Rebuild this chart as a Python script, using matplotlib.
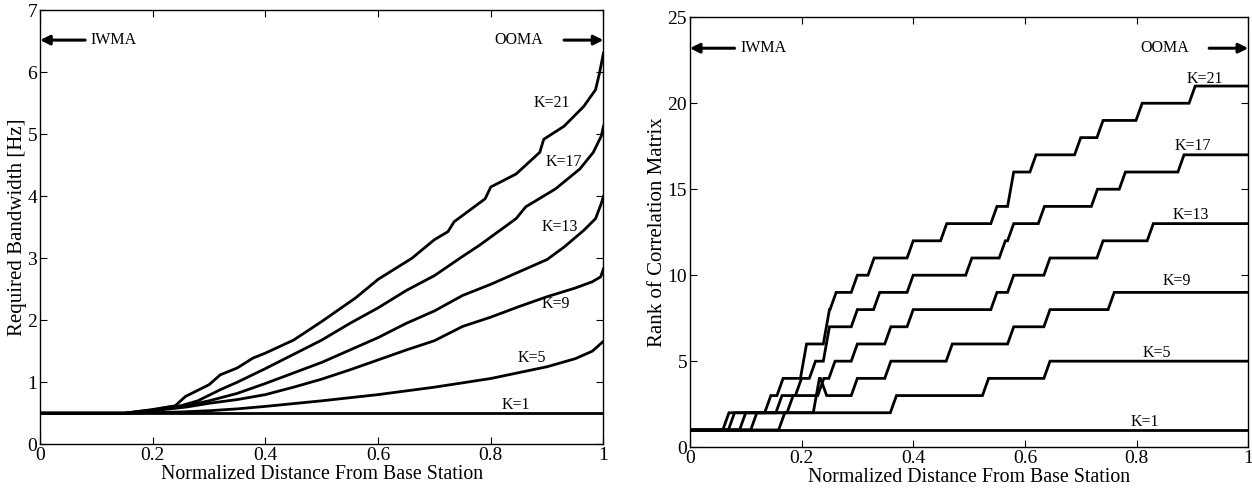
import numpy as np
import matplotlib
matplotlib.use('Agg')
import matplotlib.pyplot as plt
from matplotlib.ticker import FuncFormatter

plt.rcParams['font.family'] = ['Liberation Serif', 'DejaVu Serif']

# ---------------- Left panel: required bandwidth ----------------
bw_k1_x = [0.0, 1.0]
bw_k1_y = [0.5, 0.5]
bw_k5_x = [0, 0.15, 0.2, 0.25, 0.3, 0.35, 0.4, 0.5, 0.6, 0.7, 0.8, 0.9, 0.95, 0.98, 1.0]
bw_k5_y = [0.5, 0.5, 0.51, 0.52, 0.54, 0.57, 0.61, 0.70, 0.80, 0.92, 1.06, 1.25, 1.38, 1.5, 1.66]
bw_k9_x = [0, 0.15, 0.2, 0.23, 0.26, 0.3, 0.35, 0.4, 0.45, 0.5, 0.55, 0.6, 0.65, 0.7, 0.75,
           0.8, 0.85, 0.9, 0.95, 0.98, 0.995, 1.0]
bw_k9_y = [0.5, 0.5, 0.54, 0.57, 0.6, 0.66, 0.72, 0.8, 0.92, 1.05, 1.2, 1.36, 1.52, 1.67, 1.9,
           2.05, 2.22, 2.38, 2.52, 2.62, 2.7, 2.83]
bw_k13_x = [0, 0.15, 0.2, 0.23, 0.26, 0.3, 0.35, 0.4, 0.45, 0.5, 0.55, 0.6, 0.65, 0.7, 0.75,
            0.8, 0.85, 0.9, 0.93, 0.965, 0.986, 0.996, 1.0]
bw_k13_y = [0.5, 0.5, 0.55, 0.58, 0.62, 0.7, 0.82, 0.98, 1.15, 1.32, 1.52, 1.72, 1.95, 2.15, 2.4,
            2.58, 2.78, 2.98, 3.18, 3.45, 3.64, 3.88, 4.0]
bw_k17_x = [0, 0.15, 0.2, 0.23, 0.25, 0.28, 0.32, 0.35, 0.4, 0.45, 0.5, 0.55, 0.6, 0.65, 0.7,
            0.75, 0.78, 0.845, 0.862, 0.915, 0.958, 0.982, 0.996, 1.0]
bw_k17_y = [0.5, 0.5, 0.55, 0.6, 0.62, 0.7, 0.88, 1.0, 1.22, 1.45, 1.68, 1.95, 2.2, 2.48, 2.72,
            3.03, 3.21, 3.64, 3.83, 4.12, 4.44, 4.71, 4.97, 5.13]
bw_k21_x = [0, 0.15, 0.2, 0.24, 0.258, 0.3, 0.32, 0.35, 0.378, 0.4, 0.45, 0.5, 0.56, 0.6, 0.66,
            0.7, 0.724, 0.735, 0.79, 0.80, 0.845, 0.887, 0.894, 0.93, 0.965, 0.986, 0.993, 1.0]
bw_k21_y = [0.5, 0.5, 0.56, 0.62, 0.77, 0.96, 1.12, 1.23, 1.39, 1.47, 1.68, 1.98, 2.36, 2.66, 3.0,
            3.3, 3.43, 3.59, 3.96, 4.15, 4.36, 4.71, 4.92, 5.13, 5.45, 5.72, 5.99, 6.31]

bw_labels = ['K=1', 'K=5', 'K=9', 'K=13', 'K=17', 'K=21']
bw_label_x = [0.845, 0.873, 0.915, 0.922, 0.93, 0.908]
bw_label_y = [0.63, 1.39, 2.27, 3.51, 4.55, 5.51]

# ---------------- Right panel: rank of correlation matrix ----------------
rk_k1_start = [0.0]
rk_k1_level = [1]
rk_k5_start = [0.0, 0.17, 0.37, 0.535, 0.645]
rk_k5_level = [1, 2, 3, 4, 5]
rk_k9_start = [0.0, 0.12, 0.232, 0.245, 0.30, 0.36, 0.47, 0.58, 0.645, 0.76]
rk_k9_level = [1, 2, 4, 3, 4, 5, 6, 7, 8, 9]
rk_k13_start = [0.0, 0.10, 0.185, 0.24, 0.26, 0.30, 0.36, 0.40, 0.55, 0.58, 0.645, 0.74, 0.83]
rk_k13_level = [1, 2, 3, 4, 5, 6, 7, 8, 9, 10, 11, 12, 13]
rk_k17_start = [0.0, 0.08, 0.165, 0.20, 0.225, 0.25, 0.30, 0.34, 0.40, 0.505, 0.565, 0.58,
                0.635, 0.73, 0.78, 0.885]
rk_k17_level = [1, 2, 3, 4, 5, 7, 8, 9, 10, 11, 12, 13, 14, 15, 16, 17]
rk_k21_start = [0.0, 0.07, 0.145, 0.167, 0.209, 0.25, 0.262, 0.30, 0.33, 0.40, 0.46, 0.55,
                0.58, 0.62, 0.70, 0.74, 0.81, 0.905]
rk_k21_level = [1, 2, 3, 4, 6, 8, 9, 10, 11, 12, 13, 14, 16, 17, 18, 19, 20, 21]

rk_labels = ['K=1', 'K=5', 'K=9', 'K=13', 'K=17', 'K=21']
rk_label_x = [0.814, 0.836, 0.872, 0.897, 0.90, 0.923]
rk_label_y = [1.46, 5.46, 9.65, 13.5, 17.5, 21.4]

xticks = [0, 0.2, 0.4, 0.6, 0.8, 1.0]


def step_path(starts, levels, end=1.0, rise=0.011):
    xs, ys = [starts[0]], [levels[0]]
    for i in range(1, len(starts)):
        xs.append(max(starts[i] - rise, xs[-1]))
        ys.append(levels[i - 1])
        xs.append(starts[i])
        ys.append(levels[i])
    xs.append(end)
    ys.append(levels[-1])
    return xs, ys


def fmt(v, pos):
    return '%g' % v


fig = plt.figure(figsize=(12.52, 4.93), dpi=100)
ax1 = fig.add_axes([0.032, 0.099, 0.450, 0.880])
ax2 = fig.add_axes([0.551, 0.093, 0.446, 0.872])

lw = 2.0
for xs, ys in [(bw_k1_x, bw_k1_y), (bw_k5_x, bw_k5_y), (bw_k9_x, bw_k9_y),
               (bw_k13_x, bw_k13_y), (bw_k17_x, bw_k17_y), (bw_k21_x, bw_k21_y)]:
    ax1.plot(xs, ys, color='black', lw=lw, solid_joinstyle='round')
for t, x, y in zip(bw_labels, bw_label_x, bw_label_y):
    ax1.text(x, y, t, ha='center', va='center', fontsize=11.5)

for st, lv in [(rk_k1_start, rk_k1_level), (rk_k5_start, rk_k5_level),
               (rk_k9_start, rk_k9_level), (rk_k13_start, rk_k13_level),
               (rk_k17_start, rk_k17_level), (rk_k21_start, rk_k21_level)]:
    xs, ys = step_path(st, lv)
    ax2.plot(xs, ys, color='black', lw=lw, solid_joinstyle='miter')
for t, x, y in zip(rk_labels, rk_label_x, rk_label_y):
    ax2.text(x, y, t, ha='center', va='center', fontsize=11.5)

ax1.set_xlim(0, 1)
ax1.set_ylim(0, 7)
ax1.set_yticks(range(0, 8))
ax2.set_xlim(0, 1)
ax2.set_ylim(0, 25)
ax2.set_yticks(range(0, 26, 5))

for ax, yarr, ylab in [(ax1, 6.52, 'Required Bandwidth [Hz]'),
                       (ax2, 23.2, 'Rank of Correlation Matrix')]:
    ax.set_xticks(xticks)
    ax.xaxis.set_major_formatter(FuncFormatter(fmt))
    ax.tick_params(direction='in', top=True, right=True, length=5, width=0.8,
                   labelsize=14, pad=2)
    ax.set_xlabel('Normalized Distance From Base Station', fontsize=14.3, labelpad=1)
    ax.set_ylabel(ylab, fontsize=15, labelpad=0)
    for sp in ax.spines.values():
        sp.set_linewidth(1.0)
    ax.annotate('', xy=(0.0, yarr), xytext=(0.08, yarr),
                arrowprops=dict(arrowstyle='-|>', lw=2.2, color='black',
                                mutation_scale=14, shrinkA=0, shrinkB=0))
    ax.text(0.09, yarr, 'IWMA', ha='left', va='center', fontsize=11.5)
    ax.annotate('', xy=(1.0, yarr), xytext=(0.93, yarr),
                arrowprops=dict(arrowstyle='-|>', lw=2.2, color='black',
                                mutation_scale=14, shrinkA=0, shrinkB=0))
    ax.text(0.85, yarr, 'OOMA', ha='center', va='center', fontsize=11.5)

fig.savefig('out.png', dpi=100)
